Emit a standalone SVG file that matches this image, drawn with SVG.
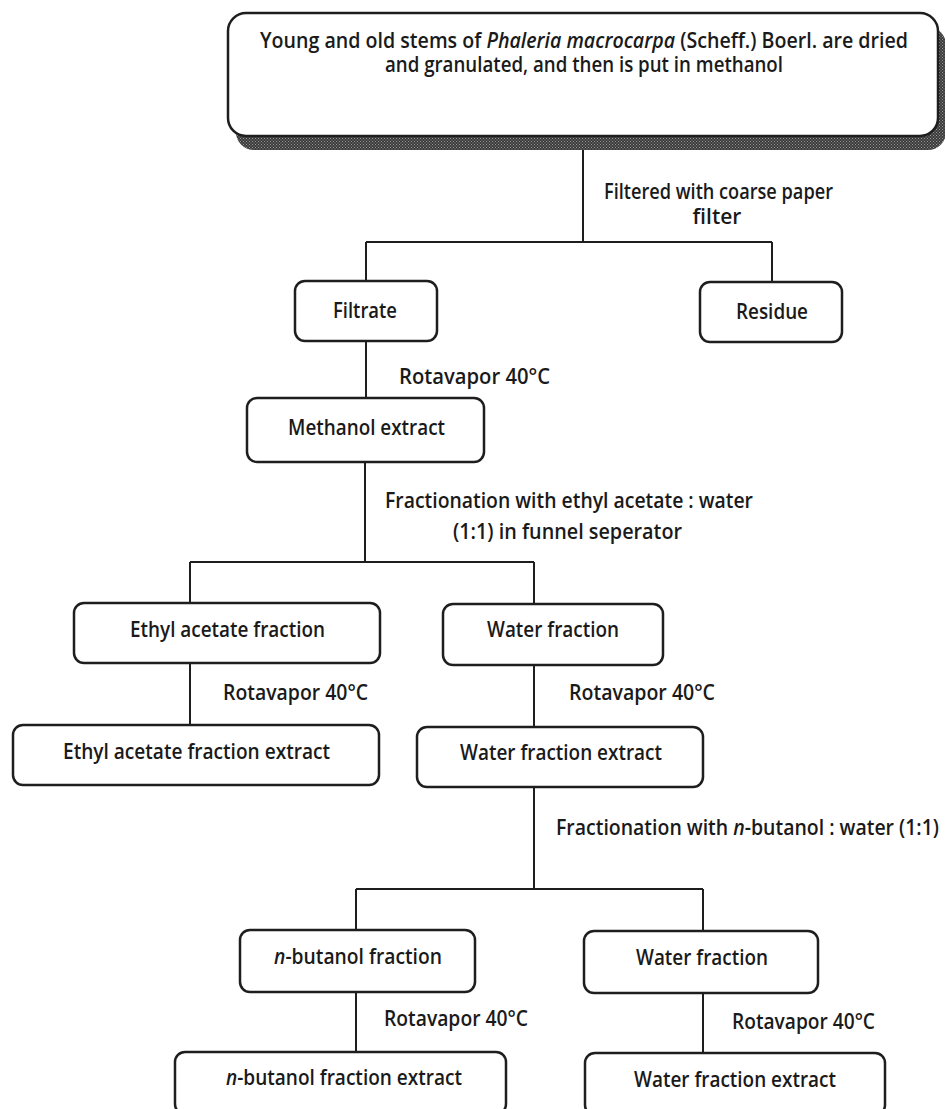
<svg xmlns="http://www.w3.org/2000/svg" width="945" height="1109" viewBox="0 0 945 1109">
<defs>
<pattern id="dots" width="3" height="3" patternUnits="userSpaceOnUse">
<rect width="3" height="3" fill="#3a3a3a"/>
<rect x="0" y="0" width="1" height="1" fill="#9a9a9a"/>
<rect x="1.5" y="1.5" width="1" height="1" fill="#9a9a9a"/>
</pattern>
</defs>
<style>
.box{fill:#fff;stroke:#1e1e1e;stroke-width:2.5}
.ln{fill:none;stroke:#1e1e1e;stroke-width:2}
text{font-family:"Open Sans","Liberation Sans",sans-serif;font-weight:600;font-size:21px;fill:#1a1a1a}
.it{font-style:italic}
</style>
<rect width="945" height="1109" fill="#ffffff"/>
<g id="connectors">
<path class="ln" d="M583 140V242M366 242H772M366 242V281M772 242V282"/>
<path class="ln" d="M366 341V398"/>
<path class="ln" d="M365 462V562M190 562H534M190 562V603M534 562V604"/>
<path class="ln" d="M190 663V725M534 665V727"/>
<path class="ln" d="M534 787V889M356 889H703M356 889V930M703 889V931"/>
<path class="ln" d="M356 992V1052M703 993V1053"/>
<text x="604" y="199" textLength="229" lengthAdjust="spacingAndGlyphs">Filtered with coarse paper</text>
<text x="717" y="224" text-anchor="middle">filter</text>
<text x="399" y="384" textLength="151" lengthAdjust="spacingAndGlyphs">Rotavapor 40°C</text>
<text x="385" y="508" textLength="368" lengthAdjust="spacingAndGlyphs">Fractionation with ethyl acetate : water</text>
<text x="453" y="539" textLength="229" lengthAdjust="spacingAndGlyphs">(1:1) in funnel seperator</text>
<text x="223" y="700" textLength="145" lengthAdjust="spacingAndGlyphs">Rotavapor 40°C</text>
<text x="569" y="700" textLength="146" lengthAdjust="spacingAndGlyphs">Rotavapor 40°C</text>
<text x="556" y="835" textLength="383" lengthAdjust="spacingAndGlyphs">Fractionation with <tspan class="it">n</tspan>-butanol : water (1:1)</text>
<text x="384" y="1026" textLength="144" lengthAdjust="spacingAndGlyphs">Rotavapor 40°C</text>
<text x="732" y="1029" textLength="143" lengthAdjust="spacingAndGlyphs">Rotavapor 40°C</text>
</g>
<g id="start">
<rect x="236" y="27" width="710" height="123" rx="18" fill="url(#dots)"/>
<rect class="box" x="228" y="13" width="710" height="123" rx="18"/>
<text x="260" y="48" textLength="648" lengthAdjust="spacingAndGlyphs">Young and old stems of <tspan class="it">Phaleria macrocarpa</tspan> (Scheff.) Boerl. are dried</text>
<text x="385" y="72" textLength="398" lengthAdjust="spacingAndGlyphs">and granulated, and then is put in methanol</text>
</g>
<g id="filtrate">
<rect class="box" x="295" y="281" width="142" height="60" rx="10"/>
<text x="333" y="318" textLength="64" lengthAdjust="spacingAndGlyphs">Filtrate</text>
</g>
<g id="residue">
<rect class="box" x="700" y="282" width="142" height="60" rx="10"/>
<text x="736" y="319" textLength="72" lengthAdjust="spacingAndGlyphs">Residue</text>
</g>
<g id="methanol">
<rect class="box" x="247" y="398" width="237" height="64" rx="10"/>
<text x="288" y="435" textLength="157" lengthAdjust="spacingAndGlyphs">Methanol extract</text>
</g>
<g id="ethyl">
<rect class="box" x="74" y="603" width="306" height="60" rx="10"/>
<text x="130" y="637" textLength="195" lengthAdjust="spacingAndGlyphs">Ethyl acetate fraction</text>
</g>
<g id="water1">
<rect class="box" x="443" y="604" width="220" height="61" rx="10"/>
<text x="487" y="637" textLength="132" lengthAdjust="spacingAndGlyphs">Water fraction</text>
</g>
<g id="ethylext">
<rect class="box" x="13" y="725" width="366" height="60" rx="10"/>
<text x="63" y="759" textLength="267" lengthAdjust="spacingAndGlyphs">Ethyl acetate fraction extract</text>
</g>
<g id="water1ext">
<rect class="box" x="417" y="727" width="286" height="60" rx="10"/>
<text x="460" y="760" textLength="202" lengthAdjust="spacingAndGlyphs">Water fraction extract</text>
</g>
<g id="butanol">
<rect class="box" x="240" y="930" width="235" height="62" rx="10"/>
<text x="274" y="964" textLength="168" lengthAdjust="spacingAndGlyphs"><tspan class="it">n</tspan>-butanol fraction</text>
</g>
<g id="water2">
<rect class="box" x="584" y="931" width="234" height="62" rx="10"/>
<text x="636" y="965" textLength="132" lengthAdjust="spacingAndGlyphs">Water fraction</text>
</g>
<g id="butanolext">
<rect class="box" x="175" y="1052" width="331" height="62" rx="10"/>
<text x="226" y="1085" textLength="236" lengthAdjust="spacingAndGlyphs"><tspan class="it">n</tspan>-butanol fraction extract</text>
</g>
<g id="water2ext">
<rect class="box" x="585" y="1053" width="300" height="62" rx="10"/>
<text x="634" y="1087" textLength="202" lengthAdjust="spacingAndGlyphs">Water fraction extract</text>
</g>
</svg>
